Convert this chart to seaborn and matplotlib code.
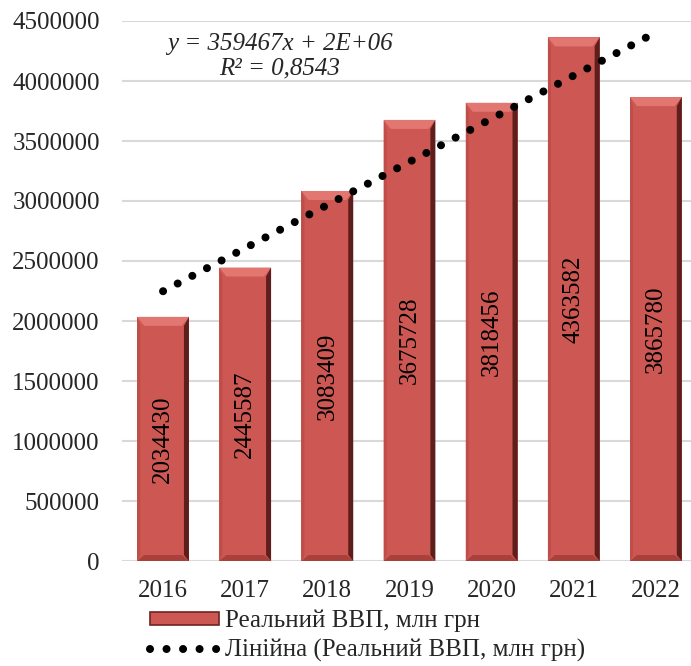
import matplotlib
matplotlib.use('Agg')
import matplotlib.pyplot as plt
import seaborn as sns
import pandas as pd
import numpy as np
from matplotlib.patches import Polygon, Patch
from matplotlib.lines import Line2D

# дані
years = ['2016', '2017', '2018', '2019', '2020', '2021', '2022']
gdp = [2034430, 2445587, 3083409, 3675728, 3818456, 4363582, 3865780]
bar_label = 'Реальний ВВП, млн грн'
trend_label = 'Лінійна (Реальний ВВП, млн грн)'
eq_text = 'y = 359467x + 2E+06\nR² = 0,8543'

df = pd.DataFrame({'year': years, 'gdp': gdp})

sns.set_theme(style='white')
plt.rcParams['font.family'] = ['Liberation Serif', 'DejaVu Serif']
FS = 18

fig = plt.figure(figsize=(6.91, 6.66), dpi=100)
W, H = 691, 666
ax = fig.add_axes([122 / W, (H - 561) / H, 575 / W, 540 / H])

face = '#CD5752'
sns.barplot(data=df, x='year', y='gdp', color=face, width=0.63,
            saturation=1, edgecolor='none', linewidth=0, ax=ax, zorder=2)

# фаска на стовпцях
px_x = 1 / 82.1
px_y = 1e6 / 120
for p in ax.patches:
    x0, w, h = p.get_x(), p.get_width(), p.get_height()
    x1 = x0 + w
    bx, by = 7 * px_x, 9 * px_y
    rx = 5 * px_x
    # верх - світліший
    ax.add_patch(Polygon([(x0, h), (x1, h), (x1 - bx, h - by), (x0 + bx, h - by)],
                         closed=True, facecolor='#E27671', edgecolor='none', zorder=3))
    # низ - темніший
    ax.add_patch(Polygon([(x0, 0), (x1, 0), (x1 - bx, 6 * px_y), (x0 + bx, 6 * px_y)],
                         closed=True, facecolor='#A8403C', edgecolor='none', zorder=3))
    # права сторона - темна
    ax.add_patch(Polygon([(x1, 0), (x1, h), (x1 - rx, h - by), (x1 - rx, 6 * px_y)],
                         closed=True, facecolor='#5E1E1C', edgecolor='none', zorder=4))
    # ліва сторона
    ax.add_patch(Polygon([(x0, 0), (x0, h), (x0 + 3 * px_x, h - by), (x0 + 3 * px_x, 6 * px_y)],
                         closed=True, facecolor='#BF4D49', edgecolor='none', zorder=4))

# підписи значень
for i, v in enumerate(gdp):
    ax.text(i, v / 2, str(v), rotation=90, ha='center', va='center',
            fontsize=FS, color='black', zorder=5)

# лінійний тренд
xs = np.arange(1, len(gdp) + 1)
k, b = np.polyfit(xs, gdp, 1)
trend = k * xs + b
dots = (0, (0.001, 2.05))
ax.plot(np.arange(len(gdp)), trend, color='black', linewidth=5.8,
        linestyle=dots, dash_capstyle='round', zorder=6)

ax.text(1.42, 4.21e6, eq_text, ha='center', va='center', fontsize=FS,
        style='italic', linespacing=1.15, zorder=7)

ax.set_xlim(-0.5, 6.5)
ax.set_ylim(0, 4.5e6)
ticks = np.arange(0, 4500001, 500000)
ax.set_yticks(ticks)
ax.set_yticklabels([str(int(t)) for t in ticks])
ax.yaxis.grid(True, color='#D9D9D9', linewidth=1.5, zorder=0)
ax.set_axisbelow(True)
ax.tick_params(axis='both', length=0, labelsize=FS)
ax.tick_params(axis='x', pad=14)
ax.tick_params(axis='y', pad=16)
ax.set_xlabel('')
ax.set_ylabel('')
for s in ax.spines.values():
    s.set_visible(False)

handles = [
    Patch(facecolor=face, edgecolor='#6E2422', linewidth=1.2, label=bar_label),
    Line2D([0], [0], color='black', linewidth=5.8, linestyle=dots,
           dash_capstyle='round', label=trend_label),
]
fig.legend(handles=handles, loc='upper left', bbox_to_anchor=(150 / W, 1 - 610 / H),
           frameon=False, fontsize=FS, handlelength=2.75, handleheight=0.4,
           handletextpad=0.25, labelspacing=0.24, borderpad=0, borderaxespad=0)

fig.savefig('out.png', dpi=100)
